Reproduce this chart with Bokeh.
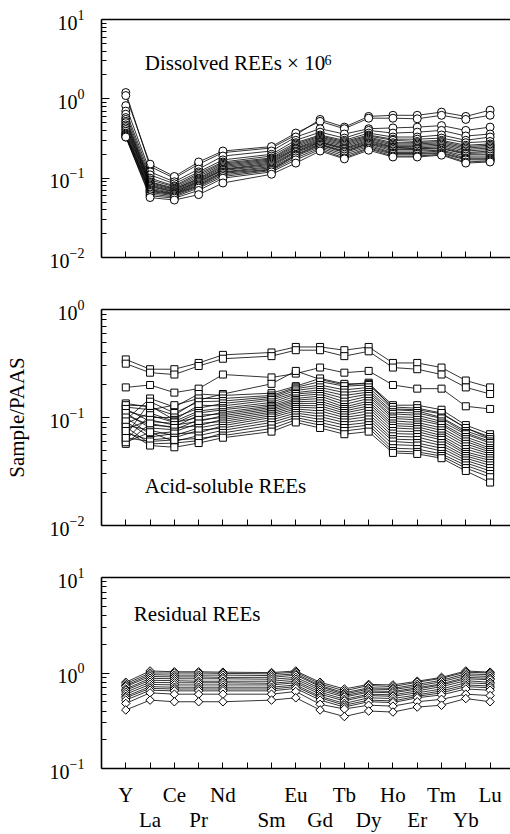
import math
from bokeh.plotting import figure
from bokeh.layouts import column
from bokeh.models import Range1d, FixedTicker, LinearAxis, Label
from bokeh.embed import file_html
from bokeh.resources import INLINE

# ---------------- data ----------------
elements = ["Y", "La", "Ce", "Pr", "Nd", "Pm", "Sm", "Eu", "Gd", "Tb", "Dy", "Ho", "Er", "Tm", "Yb", "Lu"]
measured = ["Y", "La", "Ce", "Pr", "Nd", "Sm", "Eu", "Gd", "Tb", "Dy", "Ho", "Er", "Tm", "Yb", "Lu"]

# Dissolved REEs x 10^6 (Sample/PAAS)
dissolved = [
    [1.20, 0.140, 0.100, 0.150, 0.210, 0.240, 0.350, 0.550, 0.440, 0.600, 0.620, 0.620, 0.680, 0.600, 0.720],
    [1.10, 0.150, 0.105, 0.160, 0.220, 0.250, 0.370, 0.520, 0.420, 0.570, 0.570, 0.560, 0.620, 0.550, 0.620],
    [0.82, 0.120, 0.090, 0.130, 0.190, 0.220, 0.330, 0.420, 0.360, 0.420, 0.430, 0.440, 0.460, 0.400, 0.440],
    [0.70, 0.110, 0.085, 0.120, 0.170, 0.200, 0.300, 0.380, 0.320, 0.400, 0.370, 0.380, 0.400, 0.340, 0.360],
    [0.64, 0.100, 0.080, 0.115, 0.160, 0.190, 0.280, 0.350, 0.300, 0.370, 0.330, 0.330, 0.350, 0.300, 0.330],
    [0.58, 0.095, 0.078, 0.110, 0.155, 0.180, 0.270, 0.340, 0.290, 0.350, 0.310, 0.310, 0.320, 0.280, 0.290],
    [0.55, 0.090, 0.075, 0.105, 0.150, 0.175, 0.260, 0.330, 0.280, 0.340, 0.300, 0.290, 0.300, 0.260, 0.270],
    [0.52, 0.088, 0.073, 0.100, 0.145, 0.170, 0.250, 0.320, 0.270, 0.330, 0.280, 0.280, 0.290, 0.250, 0.260],
    [0.50, 0.085, 0.072, 0.098, 0.140, 0.165, 0.240, 0.310, 0.260, 0.320, 0.270, 0.270, 0.280, 0.240, 0.250],
    [0.47, 0.082, 0.070, 0.095, 0.135, 0.160, 0.235, 0.300, 0.250, 0.310, 0.260, 0.260, 0.270, 0.230, 0.240],
    [0.45, 0.080, 0.068, 0.092, 0.130, 0.155, 0.230, 0.290, 0.240, 0.300, 0.250, 0.250, 0.260, 0.220, 0.230],
    [0.43, 0.078, 0.067, 0.090, 0.128, 0.150, 0.220, 0.285, 0.235, 0.290, 0.245, 0.240, 0.250, 0.210, 0.220],
    [0.41, 0.075, 0.065, 0.088, 0.125, 0.145, 0.215, 0.280, 0.230, 0.280, 0.240, 0.235, 0.240, 0.205, 0.210],
    [0.39, 0.072, 0.064, 0.085, 0.120, 0.140, 0.210, 0.270, 0.220, 0.275, 0.230, 0.230, 0.235, 0.200, 0.200],
    [0.37, 0.070, 0.063, 0.082, 0.118, 0.135, 0.200, 0.265, 0.215, 0.270, 0.220, 0.220, 0.225, 0.190, 0.190],
    [0.36, 0.068, 0.062, 0.080, 0.115, 0.130, 0.195, 0.260, 0.210, 0.260, 0.210, 0.210, 0.220, 0.180, 0.180],
    [0.35, 0.066, 0.060, 0.078, 0.110, 0.128, 0.190, 0.250, 0.200, 0.250, 0.205, 0.205, 0.210, 0.175, 0.175],
    [0.34, 0.063, 0.058, 0.075, 0.105, 0.125, 0.180, 0.240, 0.190, 0.240, 0.200, 0.200, 0.205, 0.170, 0.170],
    [0.33, 0.060, 0.056, 0.070, 0.100, 0.120, 0.170, 0.230, 0.180, 0.235, 0.190, 0.190, 0.200, 0.160, 0.165],
    [0.33, 0.057, 0.053, 0.062, 0.087, 0.112, 0.155, 0.220, 0.175, 0.225, 0.185, 0.185, 0.195, 0.155, 0.160],
]

# Acid-soluble REEs (Sample/PAAS)
acid_soluble = [
    [0.345, 0.280, 0.280, 0.320, 0.380, 0.400, 0.450, 0.450, 0.420, 0.450, 0.320, 0.320, 0.290, 0.220, 0.190],
    [0.315, 0.260, 0.250, 0.300, 0.350, 0.370, 0.420, 0.420, 0.370, 0.410, 0.290, 0.280, 0.250, 0.190, 0.165],
    [0.190, 0.200, 0.170, 0.185, 0.250, 0.235, 0.255, 0.290, 0.260, 0.270, 0.200, 0.185, 0.185, 0.127, 0.120],
    [0.135, 0.125, 0.105, 0.145, 0.165, 0.205, 0.270, 0.225, 0.200, 0.210, 0.120, 0.118, 0.108, 0.080, 0.064],
    [0.095, 0.150, 0.125, 0.165, 0.160, 0.168, 0.195, 0.230, 0.205, 0.205, 0.130, 0.130, 0.118, 0.085, 0.070],
    [0.125, 0.118, 0.130, 0.150, 0.150, 0.160, 0.190, 0.215, 0.195, 0.200, 0.125, 0.122, 0.110, 0.080, 0.066],
    [0.068, 0.140, 0.110, 0.140, 0.142, 0.155, 0.185, 0.200, 0.180, 0.190, 0.118, 0.115, 0.100, 0.075, 0.063],
    [0.115, 0.100, 0.100, 0.122, 0.135, 0.150, 0.178, 0.190, 0.170, 0.180, 0.112, 0.110, 0.098, 0.072, 0.060],
    [0.130, 0.128, 0.095, 0.130, 0.128, 0.145, 0.170, 0.180, 0.160, 0.172, 0.108, 0.105, 0.092, 0.070, 0.058],
    [0.088, 0.110, 0.092, 0.115, 0.122, 0.138, 0.165, 0.172, 0.150, 0.165, 0.102, 0.100, 0.088, 0.066, 0.055],
    [0.120, 0.092, 0.088, 0.110, 0.118, 0.132, 0.158, 0.165, 0.140, 0.158, 0.098, 0.095, 0.085, 0.063, 0.052],
    [0.062, 0.105, 0.090, 0.100, 0.112, 0.128, 0.150, 0.158, 0.132, 0.150, 0.093, 0.090, 0.080, 0.060, 0.050],
    [0.105, 0.085, 0.082, 0.105, 0.108, 0.124, 0.145, 0.150, 0.125, 0.142, 0.088, 0.086, 0.076, 0.057, 0.048],
    [0.078, 0.095, 0.085, 0.092, 0.104, 0.120, 0.140, 0.142, 0.120, 0.135, 0.084, 0.082, 0.072, 0.054, 0.046],
    [0.110, 0.080, 0.077, 0.095, 0.100, 0.116, 0.135, 0.135, 0.115, 0.128, 0.080, 0.078, 0.068, 0.051, 0.044],
    [0.057, 0.088, 0.080, 0.084, 0.096, 0.112, 0.130, 0.128, 0.110, 0.122, 0.075, 0.074, 0.065, 0.048, 0.042],
    [0.100, 0.070, 0.074, 0.088, 0.092, 0.108, 0.125, 0.122, 0.105, 0.115, 0.071, 0.070, 0.062, 0.046, 0.040],
    [0.085, 0.076, 0.068, 0.080, 0.088, 0.104, 0.120, 0.115, 0.100, 0.108, 0.067, 0.066, 0.058, 0.044, 0.038],
    [0.092, 0.066, 0.071, 0.072, 0.084, 0.100, 0.115, 0.108, 0.095, 0.102, 0.063, 0.062, 0.055, 0.042, 0.036],
    [0.072, 0.062, 0.065, 0.076, 0.080, 0.095, 0.110, 0.102, 0.090, 0.096, 0.060, 0.058, 0.052, 0.040, 0.034],
    [0.059, 0.073, 0.060, 0.068, 0.076, 0.090, 0.105, 0.096, 0.085, 0.090, 0.056, 0.055, 0.049, 0.038, 0.032],
    [0.082, 0.057, 0.058, 0.061, 0.072, 0.085, 0.100, 0.090, 0.080, 0.085, 0.052, 0.051, 0.046, 0.036, 0.030],
    [0.065, 0.060, 0.062, 0.064, 0.068, 0.079, 0.095, 0.085, 0.075, 0.080, 0.049, 0.048, 0.044, 0.034, 0.028],
    [0.075, 0.055, 0.053, 0.058, 0.065, 0.074, 0.090, 0.080, 0.070, 0.074, 0.047, 0.046, 0.042, 0.032, 0.025],
]

# Residual REEs (Sample/PAAS)
residual = [
    [0.80, 1.05, 1.03, 1.03, 1.02, 1.01, 1.05, 0.80, 0.68, 0.76, 0.75, 0.82, 0.90, 1.05, 1.02],
    [0.77, 1.00, 1.00, 1.00, 0.99, 0.98, 1.02, 0.77, 0.65, 0.74, 0.72, 0.80, 0.88, 1.02, 1.00],
    [0.74, 0.96, 0.95, 0.95, 0.95, 0.94, 0.98, 0.74, 0.62, 0.70, 0.69, 0.76, 0.84, 0.98, 0.96],
    [0.72, 0.92, 0.91, 0.91, 0.90, 0.90, 0.95, 0.72, 0.60, 0.68, 0.67, 0.73, 0.81, 0.94, 0.92],
    [0.68, 0.88, 0.87, 0.87, 0.87, 0.86, 0.90, 0.69, 0.58, 0.65, 0.64, 0.70, 0.77, 0.90, 0.88],
    [0.66, 0.84, 0.83, 0.82, 0.82, 0.82, 0.86, 0.66, 0.56, 0.63, 0.62, 0.68, 0.75, 0.87, 0.85],
    [0.63, 0.80, 0.79, 0.79, 0.79, 0.78, 0.82, 0.63, 0.53, 0.60, 0.59, 0.65, 0.72, 0.83, 0.80],
    [0.60, 0.76, 0.75, 0.75, 0.75, 0.75, 0.79, 0.60, 0.51, 0.58, 0.57, 0.62, 0.68, 0.79, 0.77],
    [0.57, 0.72, 0.71, 0.71, 0.71, 0.71, 0.75, 0.57, 0.48, 0.55, 0.54, 0.59, 0.65, 0.75, 0.73],
    [0.55, 0.69, 0.68, 0.68, 0.68, 0.68, 0.72, 0.55, 0.46, 0.52, 0.51, 0.57, 0.62, 0.72, 0.70],
    [0.52, 0.66, 0.65, 0.65, 0.65, 0.65, 0.69, 0.52, 0.44, 0.50, 0.49, 0.55, 0.59, 0.68, 0.66],
    [0.48, 0.62, 0.60, 0.60, 0.60, 0.60, 0.64, 0.47, 0.42, 0.46, 0.45, 0.50, 0.53, 0.60, 0.58],
    [0.41, 0.52, 0.50, 0.50, 0.50, 0.52, 0.55, 0.41, 0.35, 0.40, 0.39, 0.44, 0.46, 0.54, 0.50],
]

panel_titles = ["Dissolved REEs \u00d7 10", "Acid-soluble REEs", "Residual REEs"]
title_superscript = "6"
y_axis_title = "Sample/PAAS"

# ---------------- styling ----------------
FONT = "Liberation Serif"
x_pos = [elements.index(e) for e in measured]
x_ticks = list(range(len(elements)))
blank_labels = {t: "" for t in x_ticks}


def minor_ticks(lo_exp, hi_exp):
    out = []
    for k in range(lo_exp, hi_exp):
        for m in range(2, 10):
            out.append(m * 10.0 ** k)
    return out


def make_panel(height, top, bottom, y_lo_exp, y_hi_exp, show_ylabel=False):
    p = figure(width=510, height=height,
               x_range=Range1d(-1, 15.84),
               y_range=Range1d(10.0 ** y_lo_exp, 10.0 ** y_hi_exp),
               y_axis_type="log", output_backend="svg", toolbar_location=None,
               min_border_left=101, min_border_right=0,
               min_border_top=top, min_border_bottom=bottom)
    p.grid.visible = False
    p.outline_line_color = None
    p.background_fill_color = "white"
    p.border_fill_color = "white"

    ya = p.yaxis[0]
    ya.ticker = FixedTicker(ticks=[10.0 ** k for k in range(y_lo_exp, y_hi_exp + 1)],
                            minor_ticks=minor_ticks(y_lo_exp, y_hi_exp))
    ya.axis_line_width = 1.6
    ya.axis_line_color = "black"
    ya.major_tick_in = 8
    ya.major_tick_out = 0
    ya.minor_tick_in = 5
    ya.minor_tick_out = 0
    ya.major_tick_line_width = 1.2
    ya.minor_tick_line_width = 1.0
    ya.major_label_text_font = FONT
    ya.major_label_text_font_size = "20px"
    ya.major_label_text_color = "black"
    ya.major_label_standoff = 17
    if show_ylabel:
        ya.axis_label = y_axis_title
        ya.axis_label_text_font = FONT
        ya.axis_label_text_font_size = "21px"
        ya.axis_label_text_font_style = "normal"
        ya.axis_label_text_color = "black"
        ya.axis_label_standoff = 18

    xa = p.xaxis[0]
    xa.ticker = FixedTicker(ticks=x_ticks, minor_ticks=[])
    xa.axis_line_width = 1.6
    xa.axis_line_color = "black"
    xa.major_tick_in = 6
    xa.major_tick_out = 0
    xa.major_tick_line_width = 1.0
    xa.minor_tick_line_color = None
    xa.major_label_text_font = FONT
    xa.major_label_text_color = "black"

    top_axis = LinearAxis(ticker=FixedTicker(ticks=[]), axis_line_width=1.6, axis_line_color="black",
                          major_tick_line_color=None, minor_tick_line_color=None,
                          major_label_text_font_size="0px", major_label_standoff=0)
    p.add_layout(top_axis, "above")
    return p, xa


def draw_series(p, rows, marker, size, angle=0.0):
    for row in rows:
        p.line(x_pos, row, line_color="black", line_width=0.8)
        p.scatter(x_pos, row, marker=marker, size=size, angle=angle,
                  fill_color="white", line_color="black", line_width=1.0)


def text_label(p, x, y, text, size="21px", align="left"):
    p.add_layout(Label(x=x, y=y, text=text, text_font=FONT, text_font_size=size,
                       text_color="black", text_baseline="middle", text_align=align))


# Panel 1
p1, xa1 = make_panel(283, 19, 26, -2, 1)
xa1.major_label_overrides = blank_labels
xa1.major_label_text_font_size = "1px"
xa1.major_label_standoff = 0
draw_series(p1, dissolved, "circle", 8)
text_label(p1, 0.78, 2.85, panel_titles[0])
text_label(p1, 8.18, 3.05, title_superscript, "14px")

# Panel 2
p2, xa2 = make_panel(268, 26, 26, -2, 0, show_ylabel=True)
xa2.major_label_overrides = blank_labels
xa2.major_label_text_font_size = "1px"
xa2.major_label_standoff = 0
draw_series(p2, acid_soluble, "square", 7)
text_label(p2, 0.78, 0.0231, panel_titles[1])

# Panel 3
p3, xa3 = make_panel(283, 26, 63, -1, 1)
draw_series(p3, residual, "square", 6, angle=math.pi / 4)
text_label(p3, 0.33, 4.19, panel_titles[2])

# element names alternate between an upper and a lower row of tick labels
upper_row = dict(blank_labels)
lower_row = dict(blank_labels)
for i, e in enumerate(measured):
    if i % 2 == 0:
        upper_row[elements.index(e)] = e
    else:
        lower_row[elements.index(e)] = e

xa3.major_label_overrides = upper_row
xa3.major_label_text_font_size = "21px"
xa3.major_label_standoff = 14

second = LinearAxis(ticker=FixedTicker(ticks=x_ticks, minor_ticks=[]),
                    major_label_overrides=lower_row,
                    axis_line_color=None, major_tick_line_color=None, minor_tick_line_color=None,
                    major_label_text_font=FONT, major_label_text_font_size="21px",
                    major_label_text_color="black", major_label_standoff=-8)
p3.add_layout(second, "below")

layout = column(p1, p2, p3, spacing=0)
open("out.html", "w").write(file_html(layout, INLINE))
